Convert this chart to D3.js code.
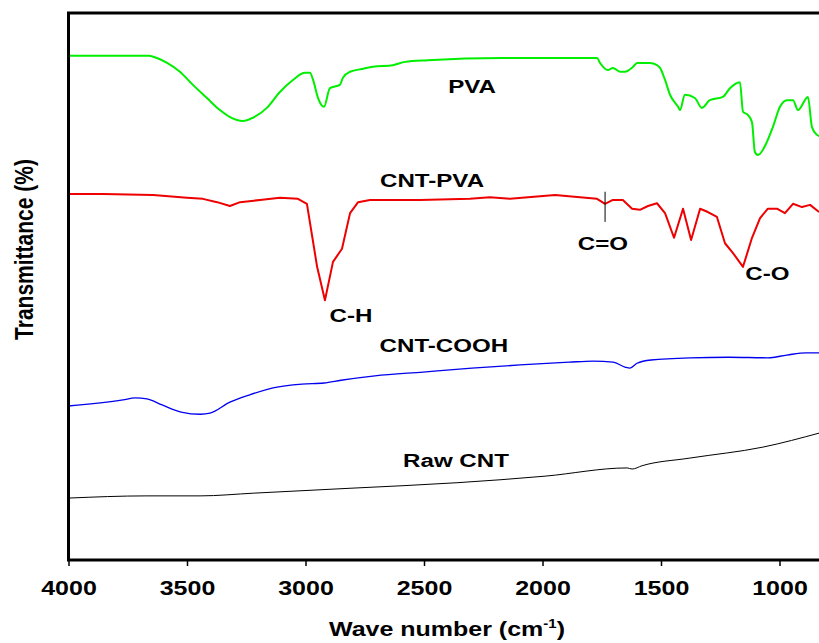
<!DOCTYPE html>
<html>
<head>
<meta charset="utf-8">
<script src="https://cdn.jsdelivr.net/npm/d3@7"></script>
<style>
  body { margin: 0; background: #fff; }
  text { font-family: "Liberation Sans", Arial, sans-serif; font-weight: bold; fill: #000; }
</style>
</head>
<body>
<div id="chart"></div>
<script>
// wave numbers (cm-1) and transmittance (offset, arbitrary units)
const pvaWave = [4000, 3660, 3627, 3584, 3530, 3475, 3416, 3361, 3318, 3264, 3222, 3163, 3108, 3053, 3002, 2981, 2968, 2947, 2922, 2897, 2855, 2842, 2812, 2762, 2715, 2631, 2580, 2485, 2167, 1981, 1770, 1757, 1724, 1703, 1673, 1652, 1618, 1601, 1547, 1517, 1504, 1483, 1462, 1428, 1420, 1399, 1357, 1327, 1294, 1239, 1209, 1167, 1154, 1133, 1116, 1104, 1091, 1053, 1028, 998, 969, 943, 922, 880, 863, 842, 821];
const pvaT = [92.0, 92.0, 91.6, 90.7, 89.1, 86.7, 84.3, 82.1, 80.8, 80.1, 80.7, 82.5, 85.4, 87.6, 88.9, 88.9, 87.6, 84.3, 82.7, 86.1, 86.7, 88.0, 89.1, 89.6, 90.0, 90.3, 90.9, 91.2, 91.6, 91.6, 91.6, 90.7, 89.4, 89.8, 89.1, 89.1, 90.0, 90.7, 90.7, 90.3, 89.8, 87.6, 84.9, 82.7, 82.1, 84.9, 84.3, 82.5, 83.9, 84.5, 86.1, 87.2, 81.8, 81.2, 79.9, 74.5, 73.9, 76.3, 79.0, 82.7, 83.9, 83.9, 82.1, 84.5, 79.0, 77.6, 77.2];

const cntPvaWave = [4000, 3854, 3643, 3500, 3433, 3373, 3319, 3276, 3192, 3108, 3032, 2994, 2951, 2918, 2884, 2846, 2812, 2778, 2728, 2517, 2306, 2222, 2137, 1947, 1842, 1770, 1736, 1703, 1661, 1622, 1589, 1555, 1517, 1483, 1445, 1407, 1373, 1335, 1302, 1264, 1230, 1196, 1154, 1116, 1082, 1049, 1011, 977, 943, 905, 871, 833];
const cntPvaT = [66.8, 66.8, 66.6, 66.1, 65.9, 65.3, 64.6, 65.3, 65.7, 66.1, 65.9, 65.0, 53.5, 47.4, 54.4, 56.8, 63.3, 65.3, 65.7, 65.7, 65.9, 66.2, 65.9, 66.6, 66.2, 65.9, 65.0, 65.7, 65.7, 64.1, 63.9, 64.6, 65.1, 63.3, 58.8, 64.1, 58.4, 64.1, 63.5, 62.6, 57.8, 56.0, 53.5, 58.8, 62.4, 64.1, 64.1, 63.3, 65.0, 64.4, 64.8, 63.5];

const cooh_Wave = [4000, 3770, 3719, 3669, 3605, 3525, 3443, 3403, 3319, 3238, 3137, 3015, 2922, 2850, 2707, 2504, 2298, 2095, 1888, 1787, 1702, 1652, 1631, 1601, 1542, 1378, 1213, 1049, 969, 888, 829];
const cooh_T = [28.1, 29.2, 29.6, 29.4, 28.3, 27.0, 26.6, 26.8, 28.8, 30.1, 31.4, 32.1, 32.3, 32.8, 33.6, 34.3, 35.0, 35.6, 36.1, 36.3, 36.1, 35.2, 35.0, 35.9, 36.5, 36.9, 37.0, 36.9, 37.4, 37.8, 37.8];

const rawWave = [4000, 3669, 3445, 3218, 2808, 2361, 1989, 1643, 1622, 1580, 1378, 1070, 829];
const rawT = [11.3, 11.7, 11.7, 12.2, 13.1, 14.1, 15.3, 16.8, 16.6, 17.2, 18.6, 20.6, 23.2];

const xTicks = [4000, 3500, 3000, 2500, 2000, 1500, 1000];

// C=O marker line
const coMarkWave = 1736;
const coMarkT = [67.2, 61.7];

// labels: text, wave number, transmittance at baseline
const labelText = ['PVA', 'CNT-PVA', 'C-H', 'C=O', 'C-O', 'CNT-COOH', 'Raw CNT'];
const labelWave = [2297, 2466, 2808, 1745, 1051, 2416, 2365];
const labelT = [85.2, 68.1, 43.4, 56.6, 51.1, 38.0, 17.0];

const series = [
  { wave: pvaWave, t: pvaT, color: '#00ee00', width: 2, curve: d3.curveMonotoneX },
  { wave: cntPvaWave, t: cntPvaT, color: '#ee0000', width: 2, curve: d3.curveLinear },
  { wave: cooh_Wave, t: cooh_T, color: '#0000ee', width: 1.3, curve: d3.curveMonotoneX },
  { wave: rawWave, t: rawT, color: '#000000', width: 1, curve: d3.curveMonotoneX }
];

const width = 819, height = 643;
const stretch = 1.25;

const svg = d3.select('#chart').append('svg')
  .attr('width', width)
  .attr('height', height);

// plot area runs past the right edge of the picture (ends at 400 cm-1)
const xScale = d3.scaleLinear().domain([4000, 400]).range([68.5, 921.7]);
const yScale = d3.scaleLinear().domain([0, 100]).range([560, 12]);

series.forEach(s => {
  const line = d3.line()
    .x(d => xScale(d[0]))
    .y(d => yScale(d[1]))
    .curve(s.curve);
  svg.append('path')
    .datum(s.wave.map((w, i) => [w, s.t[i]]))
    .attr('fill', 'none')
    .attr('stroke', s.color)
    .attr('stroke-width', s.width)
    .attr('stroke-linejoin', 'round')
    .attr('d', line);
});

// marker for C=O
svg.append('line')
  .attr('x1', xScale(coMarkWave)).attr('x2', xScale(coMarkWave))
  .attr('y1', yScale(coMarkT[0])).attr('y2', yScale(coMarkT[1]))
  .attr('stroke', '#000').attr('stroke-width', 1);

// frame
svg.append('rect')
  .attr('x', 68.5).attr('y', 13)
  .attr('width', 921.7 - 68.5).attr('height', 560 - 13)
  .attr('fill', 'none')
  .attr('stroke', '#000')
  .attr('stroke-width', 3);

// x axis
const xAxis = d3.axisBottom(xScale)
  .tickValues(xTicks)
  .tickSize(6)
  .tickSizeOuter(0)
  .tickFormat(d3.format('d'));

const xAxisG = svg.append('g')
  .attr('transform', 'translate(0,560)')
  .call(xAxis);
xAxisG.select('.domain').remove();
xAxisG.selectAll('.tick line').attr('stroke', '#000').attr('stroke-width', 1.5);
xAxisG.selectAll('.tick text').remove();
xAxisG.selectAll('.tick').append('text')
  .attr('transform', `translate(0,35) scale(${stretch},1)`)
  .attr('text-anchor', 'middle')
  .style('font-size', '20px')
  .text(d => d);

// axis titles
const xTitle = svg.append('text')
  .attr('transform', `translate(447,636) scale(${stretch},1)`)
  .attr('text-anchor', 'middle')
  .style('font-size', '20px');
xTitle.append('tspan').text('Wave number (cm');
xTitle.append('tspan').attr('dy', -8).style('font-size', '12px').text('-1');
xTitle.append('tspan').attr('dy', 8).text(')');

svg.append('text')
  .attr('transform', `translate(33,249.5) scale(${stretch},1) rotate(-90)`)
  .attr('text-anchor', 'middle')
  .style('font-size', '21px')
  .text('Transmittance (%)');

// curve labels
labelText.forEach((t, i) => {
  svg.append('text')
    .attr('transform', `translate(${xScale(labelWave[i])},${yScale(labelT[i])}) scale(1.27,1)`)
    .attr('text-anchor', 'middle')
    .style('font-size', '19px')
    .text(t);
});
</script>
</body>
</html>
